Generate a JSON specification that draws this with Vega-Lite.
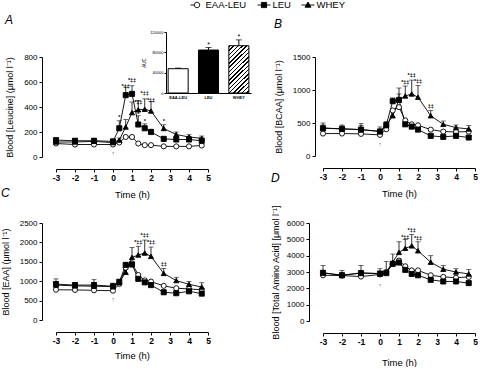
{
"$schema":"https://vega.github.io/schema/vega-lite/v6.json",
"padding":{"left":1,"top":0,"right":0,"bottom":0},
"background":"white",
"config":{"view":{"stroke":null},"font":"Liberation Sans",
"axis":{"grid":false,"domainColor":"#000","tickColor":"#000","labelColor":"#000","titleColor":"#000","labelFont":"Liberation Sans","titleFont":"Liberation Sans","titleFontWeight":"normal","domainWidth":1,"tickWidth":1},
"legend":{"labelFont":"Liberation Sans","labelFontSize":9.5,"labelColor":"#000","padding":0},
"title":{"font":"Liberation Sans","fontSize":12,"fontStyle":"italic","fontWeight":"normal","anchor":"start","frame":"group","baseline":"alphabetic","color":"#000"}},
"datasets":{
"A":[
{"t":-3,"group":"EAA-LEU","v":108},{"t":-2,"group":"EAA-LEU","v":100},{"t":-1,"group":"EAA-LEU","v":100},{"t":0,"group":"EAA-LEU","v":100},{"t":0.33,"group":"EAA-LEU","v":116},{"t":0.67,"group":"EAA-LEU","v":160},{"t":1,"group":"EAA-LEU","v":160},{"t":1.33,"group":"EAA-LEU","v":108},{"t":1.67,"group":"EAA-LEU","v":95},{"t":2,"group":"EAA-LEU","v":95},{"t":2.67,"group":"EAA-LEU","v":85},{"t":3.33,"group":"EAA-LEU","v":85},{"t":4,"group":"EAA-LEU","v":85},{"t":4.67,"group":"EAA-LEU","v":92},
{"t":-3,"group":"LEU","v":135,"hi":148},{"t":-2,"group":"LEU","v":130,"hi":143},{"t":-1,"group":"LEU","v":130,"hi":148},{"t":0,"group":"LEU","v":125,"hi":138},{"t":0.33,"group":"LEU","v":230,"hi":290},{"t":0.67,"group":"LEU","v":495,"hi":560},{"t":1,"group":"LEU","v":505,"hi":570},{"t":1.33,"group":"LEU","v":260,"hi":330},{"t":1.67,"group":"LEU","v":230,"hi":265},{"t":2,"group":"LEU","v":200,"hi":222},{"t":2.67,"group":"LEU","v":145,"hi":162},{"t":3.33,"group":"LEU","v":140,"hi":158},{"t":4,"group":"LEU","v":140,"hi":162},{"t":4.67,"group":"LEU","v":130,"hi":150},
{"t":-3,"group":"WHEY","v":120,"hi":140},{"t":-2,"group":"WHEY","v":120,"hi":138},{"t":-1,"group":"WHEY","v":125,"hi":140},{"t":0,"group":"WHEY","v":115,"hi":130},{"t":0.33,"group":"WHEY","v":135,"hi":152},{"t":0.67,"group":"WHEY","v":240,"hi":300},{"t":1,"group":"WHEY","v":355,"hi":440},{"t":1.33,"group":"WHEY","v":378,"hi":452},{"t":1.67,"group":"WHEY","v":382,"hi":465},{"t":2,"group":"WHEY","v":368,"hi":445},{"t":2.67,"group":"WHEY","v":228,"hi":258},{"t":3.33,"group":"WHEY","v":180,"hi":200},{"t":4,"group":"WHEY","v":160,"hi":178},{"t":4.67,"group":"WHEY","v":150,"hi":168}],
"B":[
{"t":-3,"group":"EAA-LEU","v":340},{"t":-2,"group":"EAA-LEU","v":340},{"t":-1,"group":"EAA-LEU","v":335},{"t":0,"group":"EAA-LEU","v":320},{"t":0.33,"group":"EAA-LEU","v":405},{"t":0.67,"group":"EAA-LEU","v":690},{"t":1,"group":"EAA-LEU","v":740},{"t":1.33,"group":"EAA-LEU","v":540},{"t":1.67,"group":"EAA-LEU","v":480},{"t":2,"group":"EAA-LEU","v":465},{"t":2.67,"group":"EAA-LEU","v":400},{"t":3.33,"group":"EAA-LEU","v":370},{"t":4,"group":"EAA-LEU","v":365},{"t":4.67,"group":"EAA-LEU","v":370},
{"t":-3,"group":"LEU","v":420,"hi":470},{"t":-2,"group":"LEU","v":412,"hi":450},{"t":-1,"group":"LEU","v":400,"hi":460},{"t":0,"group":"LEU","v":370,"hi":410},{"t":0.33,"group":"LEU","v":470,"hi":510},{"t":0.67,"group":"LEU","v":830,"hi":880},{"t":1,"group":"LEU","v":850,"hi":940},{"t":1.33,"group":"LEU","v":480,"hi":510},{"t":1.67,"group":"LEU","v":445,"hi":470},{"t":2,"group":"LEU","v":400,"hi":420},{"t":2.67,"group":"LEU","v":305,"hi":325},{"t":3.33,"group":"LEU","v":290,"hi":305},{"t":4,"group":"LEU","v":305,"hi":325},{"t":4.67,"group":"LEU","v":280,"hi":300},
{"t":-3,"group":"WHEY","v":425,"hi":500},{"t":-2,"group":"WHEY","v":410,"hi":470},{"t":-1,"group":"WHEY","v":400,"hi":490},{"t":0,"group":"WHEY","v":375,"hi":440},{"t":0.33,"group":"WHEY","v":460,"hi":520},{"t":0.67,"group":"WHEY","v":610,"hi":700},{"t":1,"group":"WHEY","v":850,"hi":1030},{"t":1.33,"group":"WHEY","v":910,"hi":1060},{"t":1.67,"group":"WHEY","v":940,"hi":1150},{"t":2,"group":"WHEY","v":890,"hi":1070},{"t":2.67,"group":"WHEY","v":610,"hi":690},{"t":3.33,"group":"WHEY","v":480,"hi":530},{"t":4,"group":"WHEY","v":430,"hi":470},{"t":4.67,"group":"WHEY","v":410,"hi":460}],
"C":[
{"t":-3,"group":"EAA-LEU","v":780},{"t":-2,"group":"EAA-LEU","v":775},{"t":-1,"group":"EAA-LEU","v":765},{"t":0,"group":"EAA-LEU","v":755},{"t":0.33,"group":"EAA-LEU","v":930},{"t":0.67,"group":"EAA-LEU","v":1350},{"t":1,"group":"EAA-LEU","v":1460},{"t":1.33,"group":"EAA-LEU","v":1160},{"t":1.67,"group":"EAA-LEU","v":1020},{"t":2,"group":"EAA-LEU","v":990},{"t":2.67,"group":"EAA-LEU","v":880},{"t":3.33,"group":"EAA-LEU","v":820},{"t":4,"group":"EAA-LEU","v":800},{"t":4.67,"group":"EAA-LEU","v":780},
{"t":-3,"group":"LEU","v":925,"hi":990},{"t":-2,"group":"LEU","v":900,"hi":950},{"t":-1,"group":"LEU","v":900,"hi":960},{"t":0,"group":"LEU","v":870,"hi":920},{"t":0.33,"group":"LEU","v":985,"hi":1030},{"t":0.67,"group":"LEU","v":1420,"hi":1480},{"t":1,"group":"LEU","v":1430,"hi":1500},{"t":1.33,"group":"LEU","v":1060,"hi":1100},{"t":1.67,"group":"LEU","v":970,"hi":1000},{"t":2,"group":"LEU","v":900,"hi":930},{"t":2.67,"group":"LEU","v":715,"hi":740},{"t":3.33,"group":"LEU","v":690,"hi":715},{"t":4,"group":"LEU","v":740,"hi":770},{"t":4.67,"group":"LEU","v":680,"hi":700},
{"t":-3,"group":"WHEY","v":900,"hi":1060},{"t":-2,"group":"WHEY","v":880,"hi":970},{"t":-1,"group":"WHEY","v":870,"hi":1040},{"t":0,"group":"WHEY","v":860,"hi":950},{"t":0.33,"group":"WHEY","v":960,"hi":1010},{"t":0.67,"group":"WHEY","v":1230,"hi":1300},{"t":1,"group":"WHEY","v":1615,"hi":1870},{"t":1.33,"group":"WHEY","v":1675,"hi":1900},{"t":1.67,"group":"WHEY","v":1725,"hi":2060},{"t":2,"group":"WHEY","v":1640,"hi":1880},{"t":2.67,"group":"WHEY","v":1200,"hi":1330},{"t":3.33,"group":"WHEY","v":1015,"hi":1100},{"t":4,"group":"WHEY","v":920,"hi":990},{"t":4.67,"group":"WHEY","v":850,"hi":960}],
"D":[
{"t":-3,"group":"EAA-LEU","v":2800},{"t":-2,"group":"EAA-LEU","v":2780},{"t":-1,"group":"EAA-LEU","v":2720},{"t":0,"group":"EAA-LEU","v":2850},{"t":0.33,"group":"EAA-LEU","v":3000},{"t":0.67,"group":"EAA-LEU","v":3500},{"t":1,"group":"EAA-LEU","v":3700},{"t":1.33,"group":"EAA-LEU","v":3350},{"t":1.67,"group":"EAA-LEU","v":3100},{"t":2,"group":"EAA-LEU","v":3100},{"t":2.67,"group":"EAA-LEU","v":2800},{"t":3.33,"group":"EAA-LEU","v":2700},{"t":4,"group":"EAA-LEU","v":2650},{"t":4.67,"group":"EAA-LEU","v":2700},
{"t":-3,"group":"LEU","v":2950,"hi":3100},{"t":-2,"group":"LEU","v":2800,"hi":2950},{"t":-1,"group":"LEU","v":2930,"hi":3100},{"t":0,"group":"LEU","v":2900,"hi":3050},{"t":0.33,"group":"LEU","v":2930,"hi":3100},{"t":0.67,"group":"LEU","v":3500,"hi":3650},{"t":1,"group":"LEU","v":3580,"hi":3800},{"t":1.33,"group":"LEU","v":3130,"hi":3250},{"t":1.67,"group":"LEU","v":2880,"hi":3000},{"t":2,"group":"LEU","v":2800,"hi":2900},{"t":2.67,"group":"LEU","v":2520,"hi":2620},{"t":3.33,"group":"LEU","v":2420,"hi":2500},{"t":4,"group":"LEU","v":2420,"hi":2520},{"t":4.67,"group":"LEU","v":2320,"hi":2420},
{"t":-3,"group":"WHEY","v":2950,"hi":3400},{"t":-2,"group":"WHEY","v":2800,"hi":3100},{"t":-1,"group":"WHEY","v":2950,"hi":3400},{"t":0,"group":"WHEY","v":2900,"hi":3200},{"t":0.33,"group":"WHEY","v":3000,"hi":3650},{"t":0.67,"group":"WHEY","v":3600,"hi":4100},{"t":1,"group":"WHEY","v":4200,"hi":4850},{"t":1.33,"group":"WHEY","v":4450,"hi":5000},{"t":1.67,"group":"WHEY","v":4600,"hi":5300},{"t":2,"group":"WHEY","v":4300,"hi":4850},{"t":2.67,"group":"WHEY","v":3600,"hi":4000},{"t":3.33,"group":"WHEY","v":3170,"hi":3400},{"t":4,"group":"WHEY","v":3000,"hi":3200},{"t":4.67,"group":"WHEY","v":2880,"hi":3150}],
"annA":[{"t":0.33,"v":320,"label":"*"},{"t":0.67,"v":570,"label":"*‡‡"},{"t":1,"v":620,"label":"*‡‡"},{"t":1.33,"v":440,"label":"*‡‡"},{"t":1.67,"v":510,"label":"*‡‡"},{"t":2,"v":460,"label":"*‡‡"},{"t":1.33,"v":345,"label":"*"},{"t":1.67,"v":285,"label":"*"},{"t":2.67,"v":290,"label":"*"},{"t":0,"v":30,"label":"↑"}],
"annB":[{"t":1.33,"v":1120,"label":"*‡‡"},{"t":1.67,"v":1220,"label":"*‡‡"},{"t":2,"v":1130,"label":"*‡‡"},{"t":2.67,"v":765,"label":"‡‡"},{"t":0,"v":180,"label":"↑"}],
"annC":[{"t":1.33,"v":2020,"label":"*‡‡"},{"t":1.67,"v":2190,"label":"*‡‡"},{"t":2,"v":2020,"label":"*‡‡"},{"t":2.67,"v":1445,"label":"‡‡"},{"t":0,"v":530,"label":"↑"}],
"annD":[{"t":1.33,"v":5150,"label":"*‡‡"},{"t":1.67,"v":5550,"label":"*‡‡"},{"t":2,"v":5080,"label":"*‡‡"},{"t":0,"v":2200,"label":"↑"}],
"auc":[{"g":"EAA-LEU","auc":47800,"hi":49000,"star":""},{"g":"LEU","auc":84500,"hi":89500,"star":"*"},{"g":"WHEY","auc":93000,"hi":104500,"star":"*"}]
},
"columns":2,
"spacing":{"row":66,"column":115},
"bounds":"flush",
"resolve":{"scale":{"shape":"independent","fill":"independent"},"legend":{"shape":"independent","fill":"independent"}},
"concat":[
{"width":152,"height":100,
 "title":{"text":"A","dx":-51,"offset":-27},
 "resolve":{"scale":{"x":"independent","y":"independent","shape":"independent","fill":"independent"}},
 "layer":[
  {"data":{"name":"A"},
   "encoding":{
    "x":{"field":"t","type":"quantitative","scale":{"domain":[-3,5],"nice":false,"zero":false},"axis":{"values":[-3,-2,-1,0,1,2,3,4,5],"labelExpr":"'' + datum.value","title":"Time (h)","offset":12,"labelFontWeight":"bold","labelFontSize":8.5,"labelPadding":1.5,"tickSize":3,"titleFontSize":9.5,"titlePadding":7,"labelFlush":false,"labelOverlap":false}},
    "y":{"field":"v","type":"quantitative","scale":{"domain":[0,800],"nice":false},"axis":{"values":[0,200,400,600,800],"format":"d","title":"Blood [Leucine] (μmol l⁻¹)","offset":14,"labelFontSize":8,"tickSize":3,"labelPadding":2,"titlePadding":9,"titleFontSize":9}}},
   "layer":[
    {"transform":[{"filter":"datum.hi != null"}],"mark":{"type":"rule","color":"black","strokeWidth":0.8},"encoding":{"y2":{"field":"hi"}}},
    {"transform":[{"filter":"datum.hi != null"}],"mark":{"type":"tick","orient":"horizontal","size":5,"thickness":0.8,"color":"black"},"encoding":{"y":{"field":"hi","type":"quantitative"}}},
    {"mark":{"type":"line","strokeWidth":0.9,"color":"black"},"encoding":{"detail":{"field":"group"}}},
    {"mark":{"type":"point","filled":true,"size":26,"stroke":"black","strokeWidth":0.9,"opacity":1},"encoding":{
      "shape":{"field":"group","type":"nominal","scale":{"range":["circle","square","triangle-up"]},"legend":null},
      "fill":{"field":"group","type":"nominal","scale":{"range":["white","black","black"]},"legend":null}}},
    {"data":{"name":"annA"},"mark":{"type":"text","fontSize":5.5,"fontWeight":"bold","color":"black"},"encoding":{"text":{"field":"label"}}}
   ]},
  {"data":{"name":"A"},
   "mark":{"type":"point","filled":true,"opacity":0,"stroke":"black","strokeWidth":0.9},
   "encoding":{
    "shape":{"field":"group","type":"nominal","scale":{"range":["M-1,0H-0.42M0.42,0A0.42,0.42,0,1,1,-0.42,0A0.42,0.42,0,1,1,0.42,0Z","M-1,0H1M-0.4,-0.4H0.4V0.4H-0.4Z","M-1,0H1M0,-0.46L0.46,0.34H-0.46Z"]},"legend":{"title":null,"orient":"none","legendX":134,"legendY":-57,"direction":"horizontal","symbolSize":169,"symbolStrokeWidth":0.9,"symbolOpacity":1,"labelOffset":1.5,"columnPadding":10,"clipHeight":10,"labelFontSize":9.5}},
    "fill":{"field":"group","type":"nominal","scale":{"range":["white","black","black"]},"legend":{"title":null,"orient":"none","legendX":134,"legendY":-57,"direction":"horizontal","symbolSize":169,"symbolStrokeWidth":0.9,"symbolOpacity":1,"labelOffset":1.5,"columnPadding":10,"clipHeight":10,"labelFontSize":9.5}}}},
  {"data":{"name":"auc"},
   "encoding":{
    "x":{"field":"g","type":"nominal","sort":null,"scale":{"range":[110,195],"paddingInner":0.34,"paddingOuter":0.07},"axis":{"orient":"bottom","offset":-64,"title":null,"labelFontSize":4,"labelFontWeight":"bold","labelAngle":0,"ticks":false,"labelPadding":2}},
    "y":{"field":"auc","type":"quantitative","scale":{"domain":[0,120000],"range":[36,-25],"nice":false},"axis":{"orient":"left","offset":-110,"values":[0,40000,80000,120000],"format":"d","title":"AUC","titleFontSize":4.5,"labelFontSize":4,"tickSize":2,"labelPadding":1,"titlePadding":3}}},
   "layer":[
    {"mark":{"type":"bar","stroke":"black","strokeWidth":1},"encoding":{"fill":{"condition":[{"test":"datum.g === 'LEU'","value":"black"},{"test":"datum.g === 'WHEY'","value":{"gradient":"linear","x1":0,"y1":0,"x2":0.51,"y2":1.224,"stops":[
{"offset":0,"color":"black"},{"offset":0.022,"color":"black"},{"offset":0.022,"color":"white"},{"offset":0.0625,"color":"white"},
{"offset":0.0625,"color":"black"},{"offset":0.0845,"color":"black"},{"offset":0.0845,"color":"white"},{"offset":0.125,"color":"white"},
{"offset":0.125,"color":"black"},{"offset":0.147,"color":"black"},{"offset":0.147,"color":"white"},{"offset":0.1875,"color":"white"},
{"offset":0.1875,"color":"black"},{"offset":0.2095,"color":"black"},{"offset":0.2095,"color":"white"},{"offset":0.25,"color":"white"},
{"offset":0.25,"color":"black"},{"offset":0.272,"color":"black"},{"offset":0.272,"color":"white"},{"offset":0.3125,"color":"white"},
{"offset":0.3125,"color":"black"},{"offset":0.3345,"color":"black"},{"offset":0.3345,"color":"white"},{"offset":0.375,"color":"white"},
{"offset":0.375,"color":"black"},{"offset":0.397,"color":"black"},{"offset":0.397,"color":"white"},{"offset":0.4375,"color":"white"},
{"offset":0.4375,"color":"black"},{"offset":0.4595,"color":"black"},{"offset":0.4595,"color":"white"},{"offset":0.5,"color":"white"},
{"offset":0.5,"color":"black"},{"offset":0.522,"color":"black"},{"offset":0.522,"color":"white"},{"offset":0.5625,"color":"white"},
{"offset":0.5625,"color":"black"},{"offset":0.5845,"color":"black"},{"offset":0.5845,"color":"white"},{"offset":0.625,"color":"white"},
{"offset":0.625,"color":"black"},{"offset":0.647,"color":"black"},{"offset":0.647,"color":"white"},{"offset":0.6875,"color":"white"},
{"offset":0.6875,"color":"black"},{"offset":0.7095,"color":"black"},{"offset":0.7095,"color":"white"},{"offset":0.75,"color":"white"},
{"offset":0.75,"color":"black"},{"offset":0.772,"color":"black"},{"offset":0.772,"color":"white"},{"offset":0.8125,"color":"white"},
{"offset":0.8125,"color":"black"},{"offset":0.8345,"color":"black"},{"offset":0.8345,"color":"white"},{"offset":0.875,"color":"white"},
{"offset":0.875,"color":"black"},{"offset":0.897,"color":"black"},{"offset":0.897,"color":"white"},{"offset":0.9375,"color":"white"},
{"offset":0.9375,"color":"black"},{"offset":0.9595,"color":"black"},{"offset":0.9595,"color":"white"},{"offset":1,"color":"white"}]}}],"value":"white"}}},
    {"mark":{"type":"rule","color":"black","strokeWidth":1},"encoding":{"y2":{"field":"hi"}}},
    {"mark":{"type":"tick","orient":"horizontal","size":6,"thickness":1,"color":"black"},"encoding":{"y":{"field":"hi","type":"quantitative"}}},
    {"mark":{"type":"text","fontSize":7,"dy":-3,"color":"black"},"encoding":{"y":{"field":"hi","type":"quantitative"},"text":{"field":"star"}}}
   ]}
 ]},
{"width":152,"height":99,
 "title":{"text":"B","dx":-49,"offset":22.5},
 "data":{"name":"B"},
 "encoding":{
  "x":{"field":"t","type":"quantitative","scale":{"domain":[-3,5],"nice":false,"zero":false},"axis":{"values":[-3,-2,-1,0,1,2,3,4,5],"labelExpr":"'' + datum.value","title":"Time (h)","offset":12,"labelFontWeight":"bold","labelFontSize":8.5,"labelPadding":1.5,"tickSize":3,"titleFontSize":9.5,"titlePadding":7,"labelFlush":false,"labelOverlap":false}},
  "y":{"field":"v","type":"quantitative","scale":{"domain":[0,1500],"nice":false},"axis":{"values":[0,500,1000,1500],"format":"d","title":"Blood [BCAA] (μmol l⁻¹)","offset":8,"labelFontSize":8,"tickSize":3,"labelPadding":2,"titlePadding":9,"titleFontSize":9}}},
 "layer":[
  {"transform":[{"filter":"datum.hi != null"}],"mark":{"type":"rule","color":"black","strokeWidth":0.8},"encoding":{"y2":{"field":"hi"}}},
  {"transform":[{"filter":"datum.hi != null"}],"mark":{"type":"tick","orient":"horizontal","size":5,"thickness":0.8,"color":"black"},"encoding":{"y":{"field":"hi","type":"quantitative"}}},
  {"mark":{"type":"line","strokeWidth":0.9,"color":"black"},"encoding":{"detail":{"field":"group"}}},
  {"mark":{"type":"point","filled":true,"size":26,"stroke":"black","strokeWidth":0.9,"opacity":1},"encoding":{
    "shape":{"field":"group","type":"nominal","scale":{"range":["circle","square","triangle-up"]},"legend":null},
    "fill":{"field":"group","type":"nominal","scale":{"range":["white","black","black"]},"legend":null}}},
  {"data":{"name":"annB"},"mark":{"type":"text","fontSize":5.5,"fontWeight":"bold","color":"black"},"encoding":{"text":{"field":"label"}}}
 ]},
{"width":152,"height":97,
 "title":{"text":"C","dx":-55,"offset":19.5},
 "data":{"name":"C"},
 "encoding":{
  "x":{"field":"t","type":"quantitative","scale":{"domain":[-3,5],"nice":false,"zero":false},"axis":{"values":[-3,-2,-1,0,1,2,3,4,5],"labelExpr":"'' + datum.value","title":"Time (h)","offset":12,"labelFontWeight":"bold","labelFontSize":8.5,"labelPadding":1.5,"tickSize":3,"titleFontSize":9.5,"titlePadding":5,"labelFlush":false,"labelOverlap":false}},
  "y":{"field":"v","type":"quantitative","scale":{"domain":[0,2500],"nice":false},"axis":{"values":[0,500,1000,1500,2000,2500],"format":"d","title":"Blood [EAA] (μmol l⁻¹)","offset":14,"labelFontSize":8,"tickSize":3,"labelPadding":2,"titlePadding":9,"titleFontSize":9}}},
 "layer":[
  {"transform":[{"filter":"datum.hi != null"}],"mark":{"type":"rule","color":"black","strokeWidth":0.8},"encoding":{"y2":{"field":"hi"}}},
  {"transform":[{"filter":"datum.hi != null"}],"mark":{"type":"tick","orient":"horizontal","size":5,"thickness":0.8,"color":"black"},"encoding":{"y":{"field":"hi","type":"quantitative"}}},
  {"mark":{"type":"line","strokeWidth":0.9,"color":"black"},"encoding":{"detail":{"field":"group"}}},
  {"mark":{"type":"point","filled":true,"size":26,"stroke":"black","strokeWidth":0.9,"opacity":1},"encoding":{
    "shape":{"field":"group","type":"nominal","scale":{"range":["circle","square","triangle-up"]},"legend":null},
    "fill":{"field":"group","type":"nominal","scale":{"range":["white","black","black"]},"legend":null}}},
  {"data":{"name":"annC"},"mark":{"type":"text","fontSize":5.5,"fontWeight":"bold","color":"black"},"encoding":{"text":{"field":"label"}}}
 ]},
{"width":152,"height":98,
 "title":{"text":"D","dx":-52,"offset":19.5},
 "data":{"name":"D"},
 "encoding":{
  "x":{"field":"t","type":"quantitative","scale":{"domain":[-3,5],"nice":false,"zero":false},"axis":{"values":[-3,-2,-1,0,1,2,3,4,5],"labelExpr":"'' + datum.value","title":"Time (h)","offset":12,"labelFontWeight":"bold","labelFontSize":8.5,"labelPadding":1.5,"tickSize":3,"titleFontSize":9.5,"titlePadding":11,"labelFlush":false,"labelOverlap":false}},
  "y":{"field":"v","type":"quantitative","scale":{"domain":[0,6000],"nice":false},"axis":{"values":[0,1000,2000,3000,4000,5000,6000],"format":"d","title":"Blood [Total Amino Acid] [μmol l⁻¹]","offset":14,"labelFontSize":8,"tickSize":3,"labelPadding":2,"titlePadding":6,"titleFontSize":9}}},
 "layer":[
  {"transform":[{"filter":"datum.hi != null"}],"mark":{"type":"rule","color":"black","strokeWidth":0.8},"encoding":{"y2":{"field":"hi"}}},
  {"transform":[{"filter":"datum.hi != null"}],"mark":{"type":"tick","orient":"horizontal","size":5,"thickness":0.8,"color":"black"},"encoding":{"y":{"field":"hi","type":"quantitative"}}},
  {"mark":{"type":"line","strokeWidth":0.9,"color":"black"},"encoding":{"detail":{"field":"group"}}},
  {"mark":{"type":"point","filled":true,"size":26,"stroke":"black","strokeWidth":0.9,"opacity":1},"encoding":{
    "shape":{"field":"group","type":"nominal","scale":{"range":["circle","square","triangle-up"]},"legend":null},
    "fill":{"field":"group","type":"nominal","scale":{"range":["white","black","black"]},"legend":null}}},
  {"data":{"name":"annD"},"mark":{"type":"text","fontSize":5.5,"fontWeight":"bold","color":"black"},"encoding":{"text":{"field":"label"}}}
 ]}
]
}
